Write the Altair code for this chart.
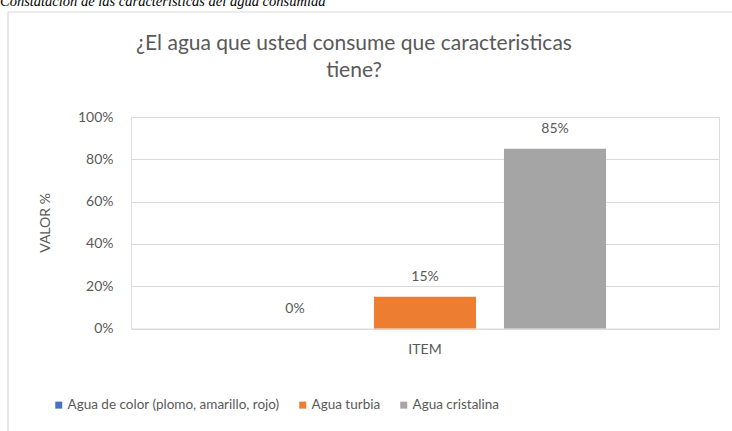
import altair as alt
import pandas as pd

categories = ["Agua de color (plomo, amarillo, rojo)", "Agua turbia", "Agua cristalina"]
values = [0.0, 0.15, 0.85]
value_labels = ["0%", "15%", "85%"]
group = ["ITEM", "ITEM", "ITEM"]
colors = ["#4472C4", "#ED7D31", "#A5A5A5"]
title_lines = ["¿El agua que usted consume que caracteristicas", "tiene?"]
caption = "Constatación de las características del agua consumida"
y_ticks = [0, 0.2, 0.4, 0.6, 0.8, 1.0]

df = pd.DataFrame({"cat": categories, "val": values, "lab": value_labels, "item": group})

FONT = "Lato"
GRAY = "#595959"

base = alt.Chart(df).encode(
    x=alt.X("item:N", title=None,
            scale=alt.Scale(paddingInner=0, paddingOuter=0.2538),
            axis=alt.Axis(labelAngle=0, ticks=False, domain=False, labelPadding=14,
                          labelFont=FONT, labelFontSize=14, labelColor=GRAY)),
    xOffset=alt.XOffset("cat:N", sort=categories,
                        scale=alt.Scale(paddingInner=0.215, paddingOuter=0.1077)),
)

bars = base.mark_bar().encode(
    y=alt.Y("val:Q", title="VALOR %",
            scale=alt.Scale(domain=[0, 1], nice=False),
            axis=alt.Axis(format=".0%", values=y_ticks, ticks=False, domain=False,
                          labelPadding=18, labelFont=FONT, labelFontSize=14, labelColor=GRAY,
                          gridColor="#d9d9d9", gridWidth=1.2,
                          titleFont=FONT, titleFontSize=14, titleColor=GRAY,
                          titleFontWeight="normal", titleX=-86, titleY=105.5,
                          titleAlign="center", titleBaseline="middle", titleAngle=270)),
    color=alt.Color("cat:N", sort=categories,
                    scale=alt.Scale(domain=categories, range=colors),
                    legend=alt.Legend(orient="none", legendX=-79, legendY=281,
                                      direction="horizontal", title=None,
                                      symbolType="square", symbolSize=49,
                                      symbolStrokeWidth=0, labelFont=FONT,
                                      labelFontSize=13.5, labelColor=GRAY,
                                      columnPadding=16, labelOffset=2,
                                      labelLimit=400)),
)

texts = base.mark_text(font=FONT, fontSize=14, color=GRAY, baseline="middle", dy=-20).encode(
    y=alt.Y("val:Q"),
    text="lab:N",
)

frame = alt.Chart(alt.Data(values=[{"k": 1}])).mark_rect(
    fill=None, stroke="#d9d9d9", strokeWidth=1.2
).encode(
    x=alt.value(-123), x2=alt.value(640), y=alt.value(-105), y2=alt.value(340)
)

cap = alt.Chart(alt.Data(values=[{"t": caption}])).mark_text(
    font="Liberation Serif", fontStyle="italic", fontSize=14.5, color="#000000",
    align="left", baseline="alphabetic"
).encode(
    x=alt.value(-131), y=alt.value(-111), text="t:N"
)

ttl = alt.Chart(alt.Data(values=[{"k": 1}])).mark_text(
    font=FONT, fontSize=21, color=GRAY, align="center", baseline="top",
    lineHeight=27, text=title_lines
).encode(
    x=alt.value(223), y=alt.value(-84)
)

chart = alt.layer(frame, bars, texts, cap, ttl).properties(
    width=588, height=211.5,
    padding={"left": 131, "top": 117, "right": 13, "bottom": 102.5},
    autosize=alt.AutoSizeParams(type="none"),
).configure_view(stroke=None).configure(background="white")

chart.save("out.html", embed_options={"renderer": "svg", "actions": False})
